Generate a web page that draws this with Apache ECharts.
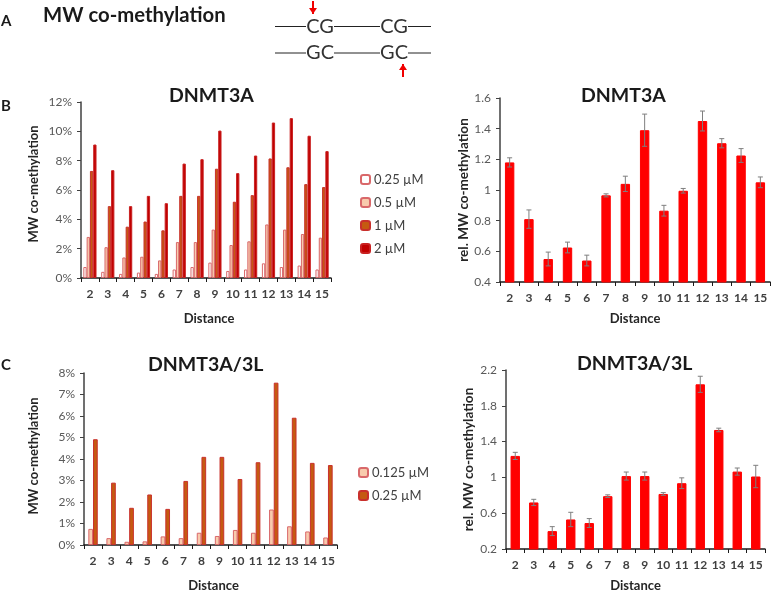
<!DOCTYPE html>
<html>
<head>
<meta charset="utf-8">
<script src="https://cdn.jsdelivr.net/npm/echarts@6/dist/echarts.min.js"></script>
<style>
  html, body { margin: 0; padding: 0; background: #fff; }
  #main { width: 771px; height: 593px; }
</style>
</head>
<body>
<div id="main"></div>
<script>
const distances = ['2', '3', '4', '5', '6', '7', '8', '9', '10', '11', '12', '13', '14', '15']

// panel B, left (percent)
const a3a025 = [0.75, 0.42, 0.28, 0.37, 0.28, 0.58, 0.75, 1.05, 0.48, 0.58, 1.0, 0.75, 0.85, 0.58]
const a3a05 = [2.8, 2.1, 1.4, 1.45, 1.2, 2.45, 2.45, 3.3, 2.25, 2.5, 3.65, 3.3, 3.0, 2.75]
const a3a1 = [7.3, 4.9, 3.5, 3.85, 3.25, 5.6, 5.6, 7.45, 5.2, 5.65, 8.15, 7.55, 6.4, 6.2]
const a3a2 = [9.1, 7.35, 4.9, 5.6, 5.1, 7.8, 8.1, 10.05, 7.15, 8.35, 10.6, 10.9, 9.7, 8.65]

// panel B, right
const a3aRel = [1.18, 0.81, 0.55, 0.625, 0.54, 0.965, 1.04, 1.39, 0.865, 0.995, 1.45, 1.305, 1.225, 1.05]
const a3aRelErr = [0.03, 0.06, 0.045, 0.035, 0.035, 0.01, 0.05, 0.105, 0.035, 0.015, 0.065, 0.03, 0.045, 0.035]

// panel C, left (percent)
const a3l0125 = [0.75, 0.32, 0.15, 0.17, 0.4, 0.32, 0.57, 0.42, 0.7, 0.57, 1.65, 0.87, 0.63, 0.35]
const a3l025 = [4.92, 2.9, 1.73, 2.35, 1.68, 2.98, 4.1, 4.1, 3.07, 3.85, 7.55, 5.92, 3.82, 3.72]

// panel C, right
const a3lRel = [1.24, 0.72, 0.4, 0.53, 0.49, 0.79, 1.015, 1.015, 0.815, 0.935, 2.04, 1.53, 1.065, 1.01]
const a3lRelErr = [0.04, 0.035, 0.05, 0.08, 0.05, 0.015, 0.045, 0.045, 0.015, 0.06, 0.09, 0.02, 0.04, 0.125]
const a3lRelTicks = [0.2, 0.6, 1, 1.4, 1.8, 2.2]

const FONT = 'Lato'
const chart = echarts.init(document.querySelector('#main'))

const grids = [
  { left: 81, top: 102, width: 250, height: 176 },
  { left: 500, top: 98, width: 270, height: 184 },
  { left: 84, top: 373, width: 253, height: 174 },
  { left: 506, top: 370, width: 259, height: 181 }
]

const xAxisAt = (i, nameGap, padLeft) => ({
  type: 'category',
  gridIndex: i,
  data: distances,
  name: 'Distance',
  nameLocation: 'middle',
  nameGap: nameGap,
  nameTextStyle: { fontFamily: FONT, fontWeight: 'bold', fontSize: 13, color: '#262626', padding: [0, 0, 0, padLeft] },
  axisLine: { lineStyle: { color: '#1a1a1a', width: 1.5 } },
  axisTick: { show: true, length: 4, lineStyle: { color: '#1a1a1a', width: 1 } },
  axisLabel: { interval: 0, margin: 10, fontFamily: FONT, fontWeight: 'bold', fontSize: 12, color: '#404040' }
})

const yAxisAt = (i, name, nameGap, nameSize, padLeft, extra) => Object.assign({
  type: 'value',
  gridIndex: i,
  name: name,
  nameLocation: 'middle',
  nameGap: nameGap,
  nameTextStyle: { fontFamily: FONT, fontWeight: 'bold', fontSize: nameSize, color: '#262626', padding: [0, 0, 0, padLeft] },
  splitLine: { show: false },
  axisLine: { show: true, lineStyle: { color: '#404040', width: 1.5 } },
  axisTick: { show: true, length: 4, lineStyle: { color: '#404040', width: 1 } },
  axisLabel: { margin: 9, fontFamily: FONT, fontSize: 12, color: '#595959' }
}, extra)

const barSeries = (name, data, i, width, fill, border) => ({
  type: 'bar',
  name: name,
  data: data,
  xAxisIndex: i,
  yAxisIndex: i,
  barWidth: width,
  barGap: 0,
  itemStyle: { color: fill, borderColor: border, borderWidth: 1 }
})

const errorSeries = (values, errs, i) => ({
  type: 'custom',
  xAxisIndex: i,
  yAxisIndex: i,
  z: 5,
  silent: true,
  data: values.map((v, k) => [k, v - errs[k], v + errs[k]]),
  encode: { x: 0, y: [1, 2] },
  renderItem: (params, api) => {
    const lo = api.coord([api.value(0), api.value(1)])
    const hi = api.coord([api.value(0), api.value(2)])
    const style = { stroke: '#7f7f7f', lineWidth: 1, fill: null }
    const line = (x1, y1, x2, y2) => ({ type: 'line', shape: { x1, y1, x2, y2 }, style })
    return {
      type: 'group',
      children: [
        line(hi[0], hi[1], lo[0], lo[1]),
        line(hi[0] - 2.5, hi[1], hi[0] + 2.5, hi[1]),
        line(lo[0] - 2.5, lo[1], lo[0] + 2.5, lo[1])
      ]
    }
  }
})

const legendAt = (left, top, gap, names) => ({
  left: left,
  top: top,
  orient: 'vertical',
  data: names,
  itemWidth: 9,
  itemHeight: 9,
  itemGap: gap,
  padding: 0,
  selectedMode: false,
  textStyle: { fontFamily: FONT, fontSize: 13, color: '#404040', padding: [0, 0, 0, -1] }
})

const titleAt = (text, left, top, size, weight) => ({
  text: text,
  left: left,
  top: top,
  padding: 0,
  textStyle: { fontFamily: FONT, fontSize: size, fontWeight: weight || 'bold', color: '#1a1a1a' }
})

// sketch of the CG / GC strands in panel A
const strand = (y, text) => [
  { type: 'line', shape: { x1: 275, y1: y, x2: 306, y2: y }, style: { stroke: '#222', lineWidth: 1 } },
  { type: 'line', shape: { x1: 334, y1: y, x2: 380, y2: y }, style: { stroke: '#222', lineWidth: 1 } },
  { type: 'line', shape: { x1: 408, y1: y, x2: 431, y2: y }, style: { stroke: '#222', lineWidth: 1 } },
  { type: 'text', x: 320, y: y, style: { text: text, font: '20px Lato', fill: '#333', align: 'center', verticalAlign: 'middle' } },
  { type: 'text', x: 394, y: y, style: { text: text, font: '20px Lato', fill: '#333', align: 'center', verticalAlign: 'middle' } }
]
const arrow = (x, tail, tip) => {
  const dir = tip > tail ? -1 : 1
  return [
    { type: 'line', shape: { x1: x, y1: tail, x2: x, y2: tip }, style: { stroke: '#f00000', lineWidth: 2 } },
    { type: 'polygon', shape: { points: [[x - 4, tip + dir * 6], [x + 4, tip + dir * 6], [x, tip]] }, style: { fill: '#f00000' } }
  ]
}

chart.setOption({
  animation: false,
  backgroundColor: '#fff',
  title: [
    titleAt('A', 1, 14, 15),
    titleAt('MW co-methylation', 43, 5, 20.3),
    titleAt('B', 1, 99, 15),
    titleAt('DNMT3A', 169, 86, 19.5),
    titleAt('DNMT3A', 581, 86, 19.5),
    titleAt('C', 1, 358, 15),
    titleAt('DNMT3A/3L', 148, 355, 19.5),
    titleAt('DNMT3A/3L', 577, 354, 19.5)
  ],
  legend: [
    legendAt(360, 173, 10, ['0.25 µM', '0.5 µM', '1 µM', '2 µM']),
    legendAt(358, 466, 10, ['0.125 µM', '0.25 µM ']),
  ],
  grid: grids,
  xAxis: [xAxisAt(0, 34, 6), xAxisAt(1, 30, 0), xAxisAt(2, 34, 6), xAxisAt(3, 30, 0)],
  yAxis: [
    yAxisAt(0, 'MW co-methylation', 41, 13, 12, {
      min: 0, max: 12, interval: 2,
      axisLabel: { margin: 9, fontFamily: FONT, fontSize: 12, color: '#595959', formatter: '{value}%' }
    }),
    yAxisAt(1, 'rel. MW co-methylation', 29, 13.5, 0, {
      min: 0.4, max: 1.6, interval: 0.2,
      axisLabel: { margin: 9, fontFamily: FONT, fontSize: 12, color: '#595959', formatter: v => String(+v.toFixed(1)) }
    }),
    yAxisAt(2, 'MW co-methylation', 44, 13, 6, {
      min: 0, max: 8, interval: 1,
      axisLabel: { margin: 9, fontFamily: FONT, fontSize: 12, color: '#595959', formatter: '{value}%' }
    }),
    yAxisAt(3, 'rel. MW co-methylation', 30, 13.5, 0, {
      min: 0.2, max: 2.2,
      axisTick: { show: true, length: 4, customValues: a3lRelTicks, lineStyle: { color: '#404040', width: 1 } },
      axisLabel: { margin: 9, fontFamily: FONT, fontSize: 12, color: '#595959', customValues: a3lRelTicks, formatter: v => String(+(+v).toFixed(1)) }
    })
  ],
  series: [
    barSeries('0.25 µM', a3a025, 0, 3.3, '#ffffff', '#d9686a'),
    barSeries('0.5 µM', a3a05, 0, 3.3, '#f8cbad', '#d9686a'),
    barSeries('1 µM', a3a1, 0, 3.3, '#c55a11', '#c9302c'),
    barSeries('2 µM', a3a2, 0, 3.3, '#c00000', '#c92020'),
    barSeries('rel', a3aRel, 1, 9.4, '#ff0000', '#ff0000'),
    errorSeries(a3aRel, a3aRelErr, 1),
    barSeries('0.125 µM', a3l0125, 2, 4.7, '#f8cbad', '#d9686a'),
    barSeries('0.25 µM ', a3l025, 2, 4.7, '#c55a11', '#c9302c'),
    barSeries('rel C', a3lRel, 3, 9.4, '#ff0000', '#ff0000'),
    errorSeries(a3lRel, a3lRelErr, 3)
  ],
  graphic: { elements: [
    ...strand(26.5, 'CG'),
    ...strand(53, 'GC'),
    ...arrow(313, 1, 14),
    ...arrow(403, 77, 64)
  ] }
})
</script>
</body>
</html>
